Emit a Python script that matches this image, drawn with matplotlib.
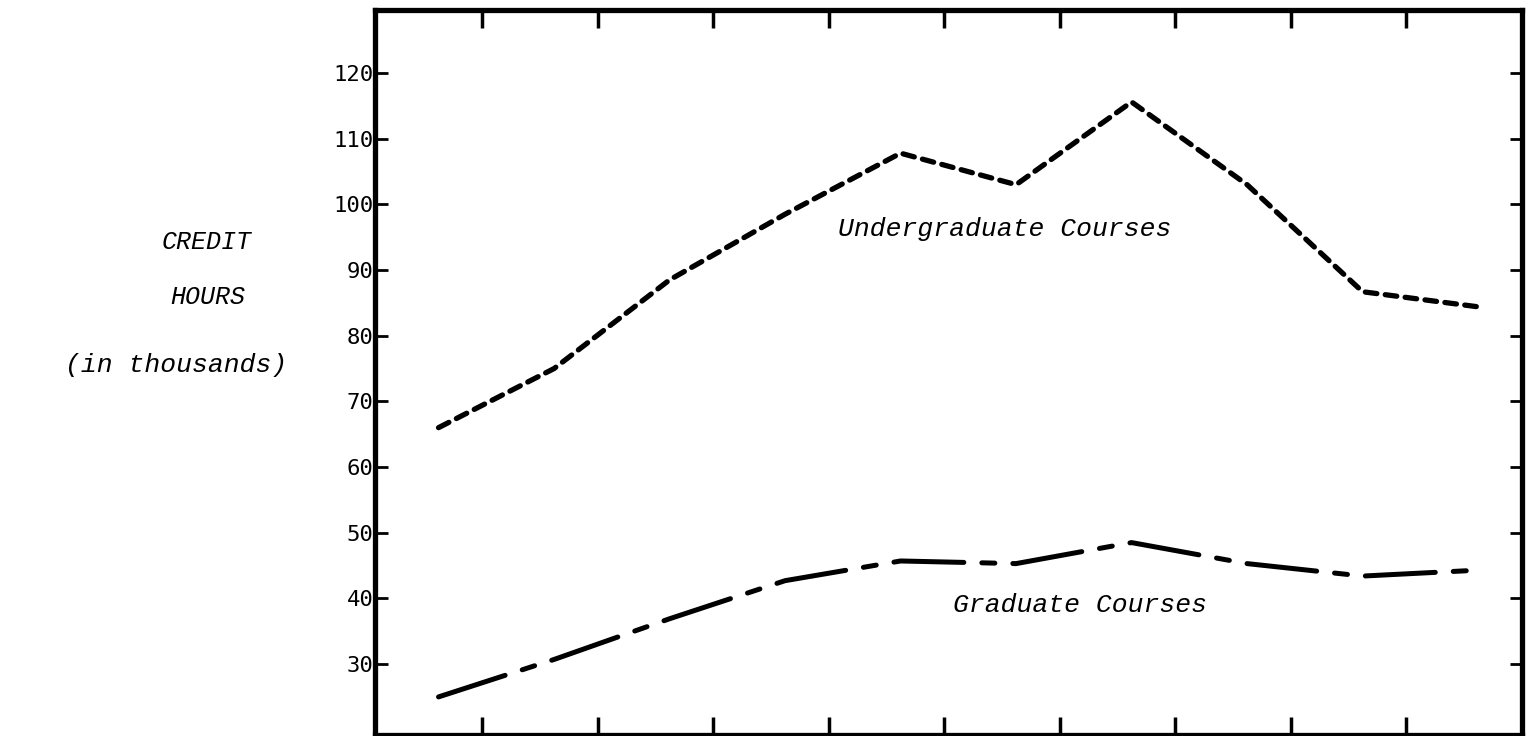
import matplotlib
matplotlib.use("Agg")
import matplotlib.pyplot as plt
import numpy as np

# values (thousands of credit hours), ten years
years = np.arange(10)
undergrad = [66, 75, 88.5, 98.5, 107.8, 103, 115.6, 103, 86.7, 84.4]
graduate = [25, 30.7, 36.9, 42.7, 45.7, 45.3, 48.5, 45.3, 43.4, 44.3]
y_ticks = [30, 40, 50, 60, 70, 80, 90, 100, 110, 120]

mono = "Liberation Mono"

fig = plt.figure(figsize=(15.31, 7.36), dpi=100)
ax = fig.add_axes([375 / 1531, 1 / 736, (1522 - 375) / 1531, (735 - 10) / 736])

# undergraduate: short thick dashes
ax.plot(years, undergrad, color="black", lw=3.8, dashes=(2.2, 1.6),
        dash_capstyle="round", solid_capstyle="round")
# graduate: long / short dashes
ax.plot(years, graduate, color="black", lw=3.6, dashes=(14, 3.6, 2.6, 3.6),
        dash_capstyle="round", solid_capstyle="round")

ax.text(4.9, 96.2, "Undergraduate Courses", fontsize=19, family=mono,
        style="italic", ha="center", va="center")
ax.text(5.55, 39, "Graduate Courses", fontsize=19, family=mono,
        style="italic", ha="center", va="center")

ax.set_xlim(-0.55, 9.38)
ax.set_ylim(19.2, 129.6)
ax.set_xticks(np.arange(9) + 0.38)
ax.set_xticklabels([])
ax.set_yticks(y_ticks)
ax.set_yticklabels([str(v) for v in y_ticks], family="DejaVu Sans Mono",
                   fontsize=16)

ax.tick_params(axis="y", direction="in", length=9, width=2, pad=1,
               left=True, right=True)
ax.tick_params(axis="x", direction="in", length=13, width=2.5,
               top=True, bottom=True)
for s in ax.spines.values():
    s.set_linewidth(3.8)

# y axis title, typed as three lines
fig.text(207 / 1531, 1 - 242 / 736, "CREDIT", fontsize=18, family=mono,
         style="italic", ha="center", va="center")
fig.text(208 / 1531, 1 - 297 / 736, "HOURS", fontsize=18, family=mono,
         style="italic", ha="center", va="center")
fig.text(176 / 1531, 1 - 365 / 736, "(in thousands)", fontsize=19, family=mono,
         style="italic", ha="center", va="center")

fig.savefig("out.png", dpi=100)
